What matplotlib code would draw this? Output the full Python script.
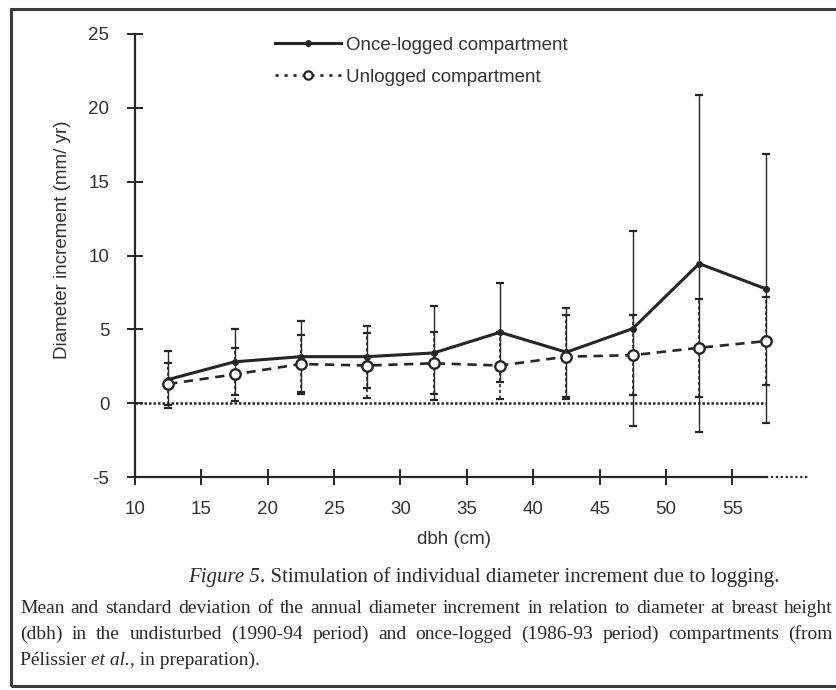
import matplotlib
matplotlib.use("Agg")
import matplotlib.pyplot as plt
from matplotlib.lines import Line2D
from matplotlib.patches import Rectangle

# dbh class centres (cm) and annual diameter increment (mm/yr)
dbh = [12.5, 17.5, 22.5, 27.5, 32.5, 37.5, 42.5, 47.5, 52.5, 57.5]
logged_mean = [1.6, 2.8, 3.15, 3.15, 3.4, 4.8, 3.45, 5.05, 9.45, 7.75]
logged_sd = [1.9, 2.25, 2.4, 2.1, 3.2, 3.35, 3.0, 6.6, 11.4, 9.1]
unlogged_mean = [1.3, 1.95, 2.65, 2.55, 2.7, 2.55, 3.15, 3.25, 3.75, 4.2]
unlogged_sd = [1.4, 1.8, 2.0, 2.2, 2.1, 2.3, 2.85, 2.7, 3.3, 3.0]

x_ticks = [10, 15, 20, 25, 30, 35, 40, 45, 50, 55]
y_ticks = [-5, 0, 5, 10, 15, 20, 25]
labels = ["Once-logged compartment", "Unlogged compartment"]

INK = "#262626"
TXT = "#333333"
W, H = 836, 690

plt.rcParams["font.family"] = ["Liberation Sans", "DejaVu Sans"]
plt.rcParams["axes.unicode_minus"] = False

fig = plt.figure(figsize=(W / 100, H / 100), dpi=100)
ax = fig.add_axes([135 / W, 1 - 477 / H, (808 - 135) / W, (477 - 34) / H])
ax.set_xlim(10, 60.7)
ax.set_ylim(-5, 25)

# error bars first, then the mean lines on top
ax.errorbar(dbh, logged_mean, yerr=logged_sd, fmt="none", ecolor=INK,
            elinewidth=1.0, capsize=3, capthick=1.6, zorder=2)
eb = ax.errorbar(dbh, unlogged_mean, yerr=unlogged_sd, fmt="none", ecolor=INK,
                 elinewidth=1.2, capsize=3, capthick=1.6, zorder=2)
eb[2][0].set_linestyle((0, (2, 1.5)))

ax.hlines(0, 10, 57.5, colors=INK, linestyles=(0, (1, 0.8)), lw=1.8, zorder=1)

ax.plot(dbh, logged_mean, "-", color=INK, lw=2.2, marker="o", ms=4, zorder=4)
ax.plot(dbh, unlogged_mean, linestyle=(0, (3.5, 2.5)), color=INK, lw=1.9,
        marker="o", ms=7.5, mfc="white", mec=INK, mew=1.7, zorder=5)

# axes styling
for s in ["top", "right"]:
    ax.spines[s].set_visible(False)
ax.spines["left"].set_bounds(-5, 25)
ax.spines["bottom"].set_bounds(10, 57.5)
for s in ["left", "bottom"]:
    ax.spines[s].set_color(INK)
    ax.spines[s].set_linewidth(1.6)
ax.plot([57.5, 60.7], [-5, -5], color=INK, lw=1.6, ls=(0, (1, 1.2)), clip_on=False)

ax.set_xticks(x_ticks)
ax.set_yticks(y_ticks)
ax.tick_params(direction="inout", length=11, width=1.4, color=INK,
               labelcolor=TXT, labelsize=13.5)
ax.tick_params(axis="x", pad=12)
ax.tick_params(axis="y", pad=13)

ax.text(0.474, -0.142, "dbh (cm)", transform=ax.transAxes, ha="center",
        va="center", fontsize=13.5, color=TXT)
ax.text(-0.108, 0.535, "Diameter increment (mm/ yr)", transform=ax.transAxes,
        ha="center", va="center", rotation=90, fontsize=13.5, color=TXT)

handles = [
    Line2D([], [], color=INK, lw=2.2, marker="o", ms=4),
    Line2D([], [], color=INK, lw=1.9, ls=(0, (1.2, 2.2)), marker="o", ms=6,
           mfc="white", mew=1.6),
]
ax.legend(handles, labels, loc="upper left", bbox_to_anchor=(0.208, 0.994),
          frameon=False, handlelength=3.5, handletextpad=0.3, labelspacing=0.8,
          borderpad=0, borderaxespad=0, fontsize=13.5, labelcolor=TXT)

# frame around figure + caption
fig.add_artist(Rectangle((11 / W, 4 / H), 1.0, (686 - 9) / H, transform=fig.transFigure,
                         fill=False, lw=2.2, edgecolor="#3a3a3a"))

renderer = fig.canvas.get_renderer()
SERIF = ["Liberation Serif", "DejaVu Serif"]


def text_width(s, size, style):
    t = fig.text(0, 0, s, fontsize=size, style=style, family=SERIF)
    w = t.get_window_extent(renderer).width
    t.remove()
    return w


def put_words(words, x0, y_base, size, right=None):
    """words: list of (word, style). Justified to `right` if given."""
    widths = [text_width(w, size, st) for w, st in words]
    sp = text_width("x x", size, "normal") - text_width("xx", size, "normal")
    gap = sp
    if right is not None and len(words) > 1:
        gap = max((right - x0 - sum(widths)) / (len(words) - 1), sp * 0.5)
    x = x0
    for (w, st), wd in zip(words, widths):
        fig.text(x / W, 1 - y_base / H, w, fontsize=size, style=st, family=SERIF,
                 color="#2a2a2a", va="baseline", ha="left")
        x += wd + gap


def runs_to_words(runs):
    out = []
    for s, st in runs:
        for w in s.split():
            out.append((w, st))
    return out


def put_runs(runs, x, y_base, size):
    for s, st in runs:
        fig.text(x / W, 1 - y_base / H, s, fontsize=size, style=st, family=SERIF,
                 color="#2a2a2a", va="baseline", ha="left")
        x += text_width(s.replace(" ", "\u00a0"), size, st)


put_runs([("Figure 5", "italic"),
          (". Stimulation of individual diameter increment due to logging.", "normal")],
         188, 582, 15)

body = 14
line1 = "Mean and standard deviation of the annual diameter increment in relation to diameter at breast height"
line2 = "(dbh) in the undisturbed (1990-94 period) and once-logged (1986-93 period) compartments (from"
put_words(runs_to_words([(line1, "normal")]), 20, 613, body, right=833)
put_words(runs_to_words([(line2, "normal")]), 20, 639, body, right=833)
put_runs([("Pélissier ", "normal"), ("et al.", "italic"), (", in preparation).", "normal")],
         20, 665, body)

fig.savefig("out.png", dpi=100)
